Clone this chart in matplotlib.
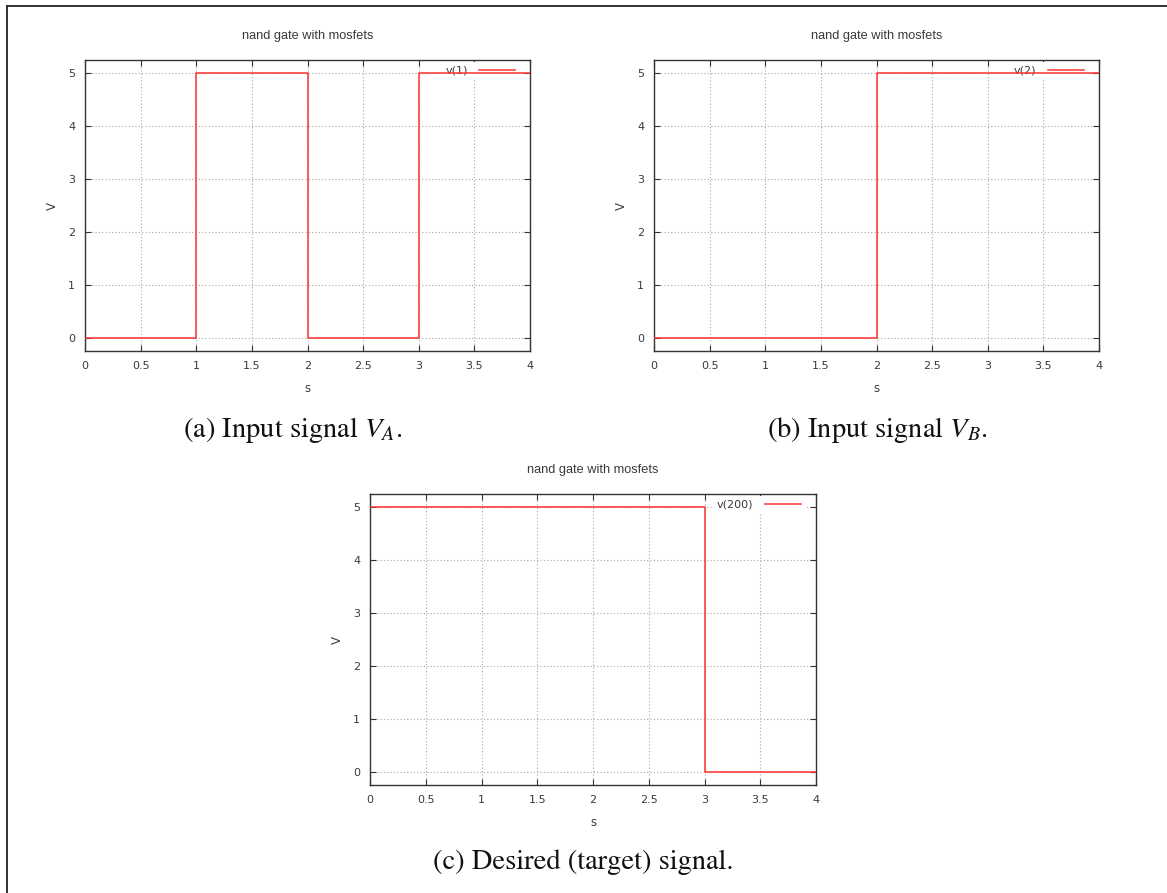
import matplotlib
matplotlib.use("Agg")
import matplotlib.pyplot as plt
from matplotlib.lines import Line2D

# Simulated node voltages of the NAND gate (time in s, voltage in V)
t_a = [0, 1, 1, 2, 2, 2, 3, 3, 4]
v_a = [0, 0, 5, 5, 2.5, 0, 0, 5, 5]

t_b = [0, 2, 2, 2, 4]
v_b = [0, 0, 2.5, 5, 5]

t_out = [0, 3, 3, 4]
v_out = [5, 5, 0, 0]

x_ticks = [0, 0.5, 1, 1.5, 2, 2.5, 3, 3.5, 4]
x_tick_labels = ["0", "0.5", "1", "1.5", "2", "2.5", "3", "3.5", "4"]
y_ticks = [0, 1, 2, 3, 4, 5]

plot_title = "nand gate with mosfets"
captions = ["(a) Input signal $V_A$.", "(b) Input signal $V_B$.",
            "(c) Desired (target) signal."]

plt.rcParams["mathtext.fontset"] = "stix"

W, H = 1167, 893
fig = plt.figure(figsize=(W / 100, H / 100), dpi=100)
fig.patch.set_facecolor("white")

TXT = "#3a3a3a"
RED = "#ff3030"


def px_axes(left, top, right, bottom):
    return [left / W, 1 - bottom / H, (right - left) / W, (bottom - top) / H]


def panel(rect, t, v, label):
    ax = fig.add_axes(rect)
    ax.plot(t, v, color=RED, lw=1.1, zorder=3, label=label)
    ax.set_xlim(0, 4)
    ax.set_ylim(-0.25, 5.25)
    ax.set_xticks(x_ticks)
    ax.set_xticklabels(x_tick_labels)
    ax.set_yticks(y_ticks)
    ax.tick_params(direction="in", length=4, width=0.8, top=True, right=True,
                   labelsize=8, labelcolor=TXT, color="#333333", pad=7)
    for lab in ax.get_xticklabels() + ax.get_yticklabels():
        lab.set_family("DejaVu Sans")
    ax.grid(True, color="#a8a8a8", linestyle=(0, (1, 2)), linewidth=0.8)
    ax.set_axisbelow(True)
    for s in ax.spines.values():
        s.set_color("#333333")
        s.set_linewidth(1.0)
    ax.text(0.5, 1.0825, plot_title, transform=ax.transAxes, ha="center",
            va="center", fontsize=9.2, color=TXT, family="Liberation Sans")
    ax.text(0.5, -0.128, "s", transform=ax.transAxes, ha="center",
            va="center", fontsize=8.5, color=TXT, family="DejaVu Sans")
    ax.text(-0.074, 0.5, "V", transform=ax.transAxes, ha="center",
            va="center", fontsize=8.5, color=TXT, family="DejaVu Sans",
            rotation=90)
    leg = ax.legend(loc="upper right", bbox_to_anchor=(1 - 9 / 445, 1),
                    frameon=True, fancybox=False,
                    edgecolor="none", facecolor="white", framealpha=1,
                    markerfirst=False, handlelength=3.3, handletextpad=1.0,
                    borderaxespad=0.2, borderpad=0.3,
                    prop={"family": "DejaVu Sans", "size": 8})
    for txt in leg.get_texts():
        txt.set_color(TXT)
    leg.set_zorder(2.5)
    return ax


panel(px_axes(85, 60, 530, 351), t_a, v_a, "v(1)")
panel(px_axes(654, 60, 1099, 351), t_b, v_b, "v(2)")
panel(px_axes(370, 494, 816, 785), t_out, v_out, "v(200)")

cap_kw = dict(ha="center", va="center", fontsize=20.5, family="STIXGeneral",
              color="#111111")
fig.text(293 / W, 1 - 430 / H, captions[0], **cap_kw)
fig.text(877 / W, 1 - 430 / H, captions[1], **cap_kw)
fig.text(583 / W, 1 - 862 / H, captions[2], **cap_kw)

# page frame: left and top rules
fig.add_artist(Line2D([6.5 / W, 6.5 / W], [0, 1 - 6 / H], color="#222222",
                      lw=1.3, transform=fig.transFigure))
fig.add_artist(Line2D([6.5 / W, 1], [1 - 6 / H, 1 - 6 / H], color="#222222",
                      lw=1.3, transform=fig.transFigure))

fig.savefig("out.png", dpi=100)
